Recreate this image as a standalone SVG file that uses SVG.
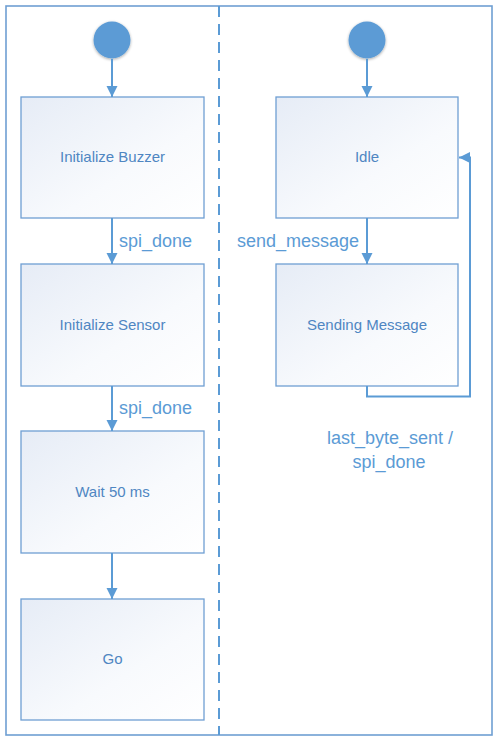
<svg xmlns="http://www.w3.org/2000/svg" width="499" height="742" viewBox="0 0 499 742">
<style>
.box{stroke:#6f9fd3;stroke-width:1.3;fill:url(#g)}
.bt{font-family:"Liberation Sans",Arial,sans-serif;font-size:15px;fill:#4f86c2;text-anchor:middle}
.lb{font-family:"Liberation Sans",Arial,sans-serif;font-size:18px;fill:#5b9bd5}
.cn{stroke:#5b9bd5;stroke-width:2;fill:none}
.st{fill:#5b9bd5}
</style>
<defs>
<linearGradient id="g" x1="0" y1="0" x2="1" y2="1">
<stop offset="0" stop-color="#e6ecf6"/>
<stop offset="0.6" stop-color="#f8fafd"/>
<stop offset="1" stop-color="#ffffff"/>
</linearGradient>
<filter id="sh" x="-30%" y="-30%" width="160%" height="160%">
<feGaussianBlur in="SourceAlpha" stdDeviation="1.5"/>
<feOffset dx="0" dy="0.5" result="b"/>
<feComponentTransfer><feFuncA type="linear" slope="0.35"/></feComponentTransfer>
<feMerge><feMergeNode/><feMergeNode in="SourceGraphic"/></feMerge>
</filter>
<marker id="ah" markerWidth="12" markerHeight="12" refX="11" refY="6" orient="auto" markerUnits="userSpaceOnUse">
<path d="M0,0.5 L11,6 L0,11.5 Z" fill="#5b9bd5"/>
</marker>
</defs>
<rect width="499" height="742" fill="#ffffff"/>
<rect id="frame" x="6" y="6" width="486" height="729" fill="none" stroke="#6f9fd3" stroke-width="1.6"/>
<line id="divider" x1="219" y1="6" x2="219" y2="735" stroke="#5b9bd5" stroke-width="2" stroke-dasharray="11 7"/>
<g id="start-left"><circle cx="112" cy="40" r="18.5" class="st" filter="url(#sh)"/></g>
<g id="start-right"><circle cx="367" cy="40" r="18.5" class="st" filter="url(#sh)"/></g>
<g id="init-buzzer"><rect class="box" x="21" y="97" width="183" height="121"/><text class="bt" x="112.5" y="162">Initialize Buzzer</text></g>
<g id="init-sensor"><rect class="box" x="21" y="264" width="183" height="122"/><text class="bt" x="112.5" y="330">Initialize Sensor</text></g>
<g id="wait"><rect class="box" x="21" y="431" width="183" height="122"/><text class="bt" x="112.5" y="497">Wait 50 ms</text></g>
<g id="go"><rect class="box" x="21" y="599" width="183" height="121"/><text class="bt" x="112.5" y="664">Go</text></g>
<g id="idle"><rect class="box" x="276" y="97" width="182" height="121"/><text class="bt" x="367" y="162">Idle</text></g>
<g id="sending"><rect class="box" x="276" y="264" width="182" height="122"/><text class="bt" x="367" y="330">Sending Message</text></g>
<g id="connectors">
<line class="cn" x1="112" y1="59" x2="112" y2="97" marker-end="url(#ah)"/>
<line class="cn" x1="112" y1="218" x2="112" y2="264" marker-end="url(#ah)"/>
<line class="cn" x1="112" y1="386" x2="112" y2="431" marker-end="url(#ah)"/>
<line class="cn" x1="112" y1="553" x2="112" y2="599" marker-end="url(#ah)"/>
<line class="cn" x1="367" y1="59" x2="367" y2="97" marker-end="url(#ah)"/>
<line class="cn" x1="367" y1="218" x2="367" y2="264" marker-end="url(#ah)"/>
<path class="cn" d="M367,386 V396.5 H470 V157.5 H459" marker-end="url(#ah)"/>
<text class="lb" x="119" y="247">spi_done</text>
<text class="lb" x="119" y="414">spi_done</text>
<text class="lb" x="359" y="247" text-anchor="end">send_message</text>
<text class="lb" x="390" y="444" text-anchor="middle">last_byte_sent /</text>
<text class="lb" x="389" y="468" text-anchor="middle">spi_done</text>
</g>
</svg>
